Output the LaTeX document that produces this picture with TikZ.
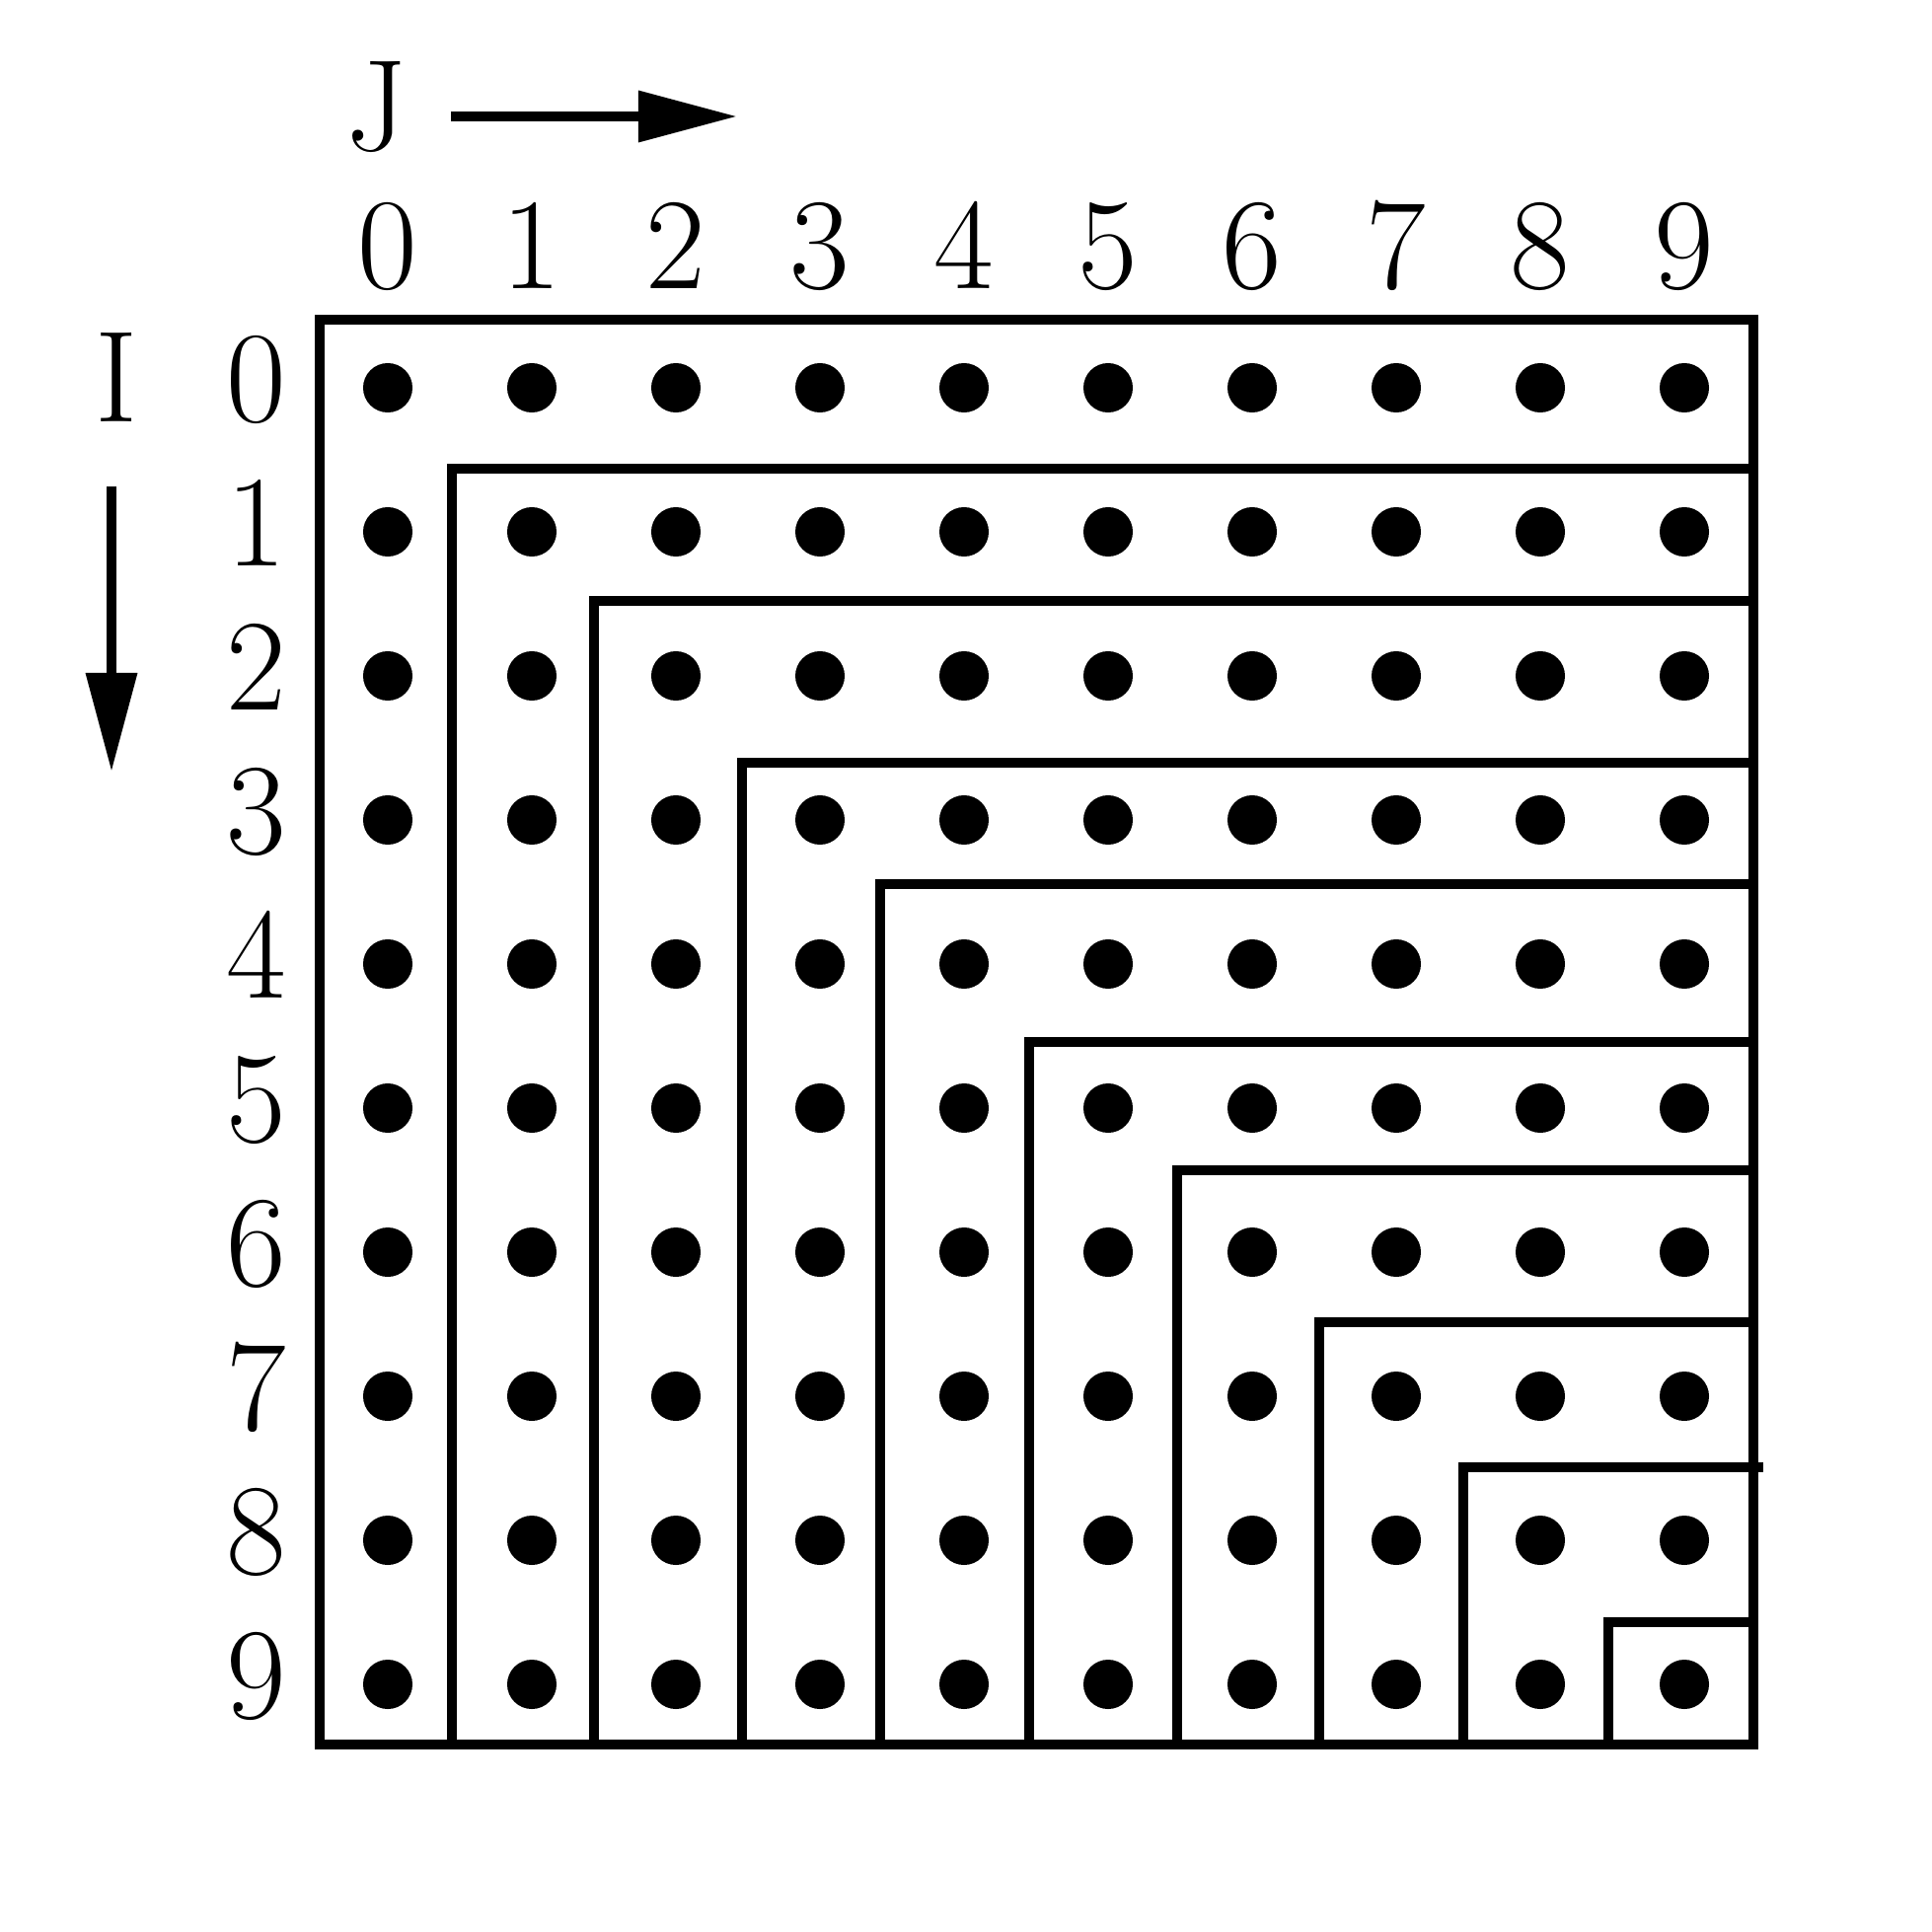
\documentclass[tikz,border=0pt]{standalone}
\usetikzlibrary{arrows.meta}
\tikzstyle{dot}=[circle,fill=black,minimum size=0.5cm,inner sep=0pt]
\tikzstyle{lbl}=[inner sep=0pt,anchor=base,font=\fontsize{37.5}{42}\selectfont]

\begin{document}
\begin{tikzpicture}[x=0.01cm,y=-0.01cm,line width=0.095cm]
    \tikzstyle{axis}=[-{Triangle[length=1cm,width=0.5cm]},line width=0.1cm]
    \useasboundingbox (0,0) rectangle (1958,1958);

    % index names and directions
    \node[lbl] (J) at (382,153) {J};
    \node[lbl] (I) at (118,428) {I};
    \coordinate (J1) at (457,118);
    \coordinate (J2) at (747,118);
    \coordinate (I1) at (113,493);
    \coordinate (I2) at (113,782);
    \draw[axis] (J1) -- (J2);
    \draw[axis] (I1) -- (I2);

    % numbers
    \foreach \k in {0,...,9} {
        \node[lbl] (C\k) at (393+146*\k,293) {\k};
        \node[lbl] (R\k) at (260,427+146*\k) {\k};
    }

    % points
    \foreach \i in {0,...,9}
        \foreach \j in {0,...,9}
            \node[dot] (P\i\j) at (393+146*\j,393+146*\i) {};

    % outer frame
    \draw (324,324) rectangle (1777,1768);

    % bands
    \draw (458,1768) |- (1777,475);
    \draw (602,1768) |- (1777,609);
    \draw (752,1768) |- (1777,773);
    \draw (892,1768) |- (1777,896);
    \draw (1043,1768) |- (1777,1056);
    \draw (1193,1768) |- (1777,1186);
    \draw (1337,1768) |- (1777,1340);
    \draw (1483,1768) |- (1787,1487);
    \draw (1630,1768) |- (1777,1644);

\end{tikzpicture}
\end{document}
